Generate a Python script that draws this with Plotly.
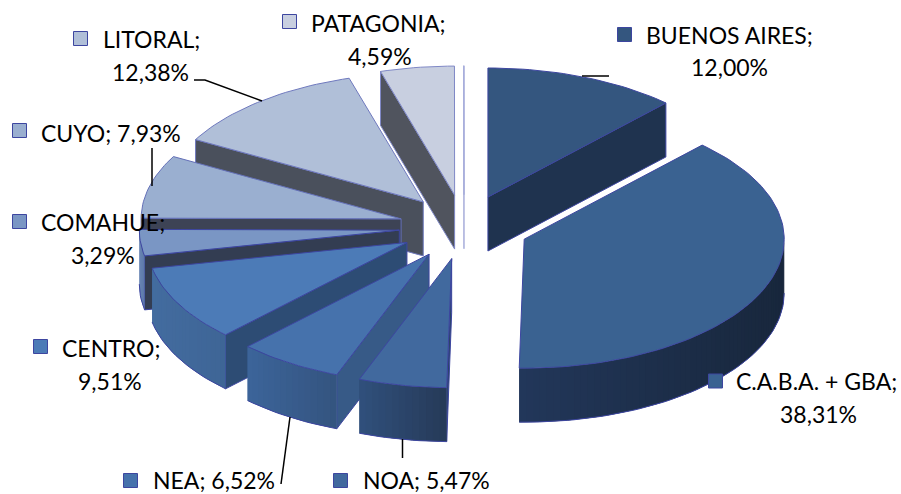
import numpy as np
import plotly.graph_objects as go

# clockwise from 12 o'clock, as in the source chart
CATEGORIES = ["BUENOS AIRES", "C.A.B.A. + GBA", "NOA", "NEA", "CENTRO",
              "COMAHUE", "CUYO", "LITORAL", "PATAGONIA", ""]
SHARES = [12.00, 38.31, 5.47, 6.52, 9.51, 3.29, 7.93, 12.38, 4.59, 0.01]

TOP_COLORS = ["#34567F", "#3A6291", "#41699E", "#4672AC", "#4C7BB7",
              "#7A96C4", "#9AAFD0", "#B0BFD8", "#C8CFE0", "#C8CFE0"]
FACE_COLORS = ["#1F334F", "#1E3050", "#2A4468", "#375A87", "#2D4C74",
               "#333D52", "#3D4355", "#4A505C", "#50545E", "#50545E"]
RIM_LEFT = ["#1F334F", "#22375A", "#30507C", "#3C649A", "#436C9F",
            "#6A86B4", "#8299BD", "#4A505C", "#50545E", "#50545E"]
RIM_RIGHT = ["#1F334F", "#18273C", "#263A58", "#34547F", "#3E6596",
             "#5C78A8", "#8299BD", "#4A505C", "#50545E", "#50545E"]
EDGE_COLORS = ["#3D46A0"] * 6 + ["#6470B8", "#6F79BE", "#7F88C6", "#A8AEDC"]

DRAW_ORDER = [9, 8, 0, 7, 6, 5, 4, 3, 2, 1]

# pie geometry in page pixels
CX, CY = 464, 227
RX, RY = 260, 129
DEPTH = 54
EXPLODE = 0.25

fig = go.Figure()


def add_poly(xs, ys, fill, edge=None):
    fig.add_trace(go.Scatter(
        x=list(xs), y=list(ys), mode="lines", fill="toself", fillcolor=fill,
        line=dict(color=edge or fill, width=1 if edge else 0),
        hoverinfo="skip", showlegend=False,
    ))


def add_line(xs, ys, color, width=1):
    fig.add_trace(go.Scatter(
        x=list(xs), y=list(ys), mode="lines", line=dict(color=color, width=width),
        hoverinfo="skip", showlegend=False,
    ))


def mix(c1, c2, t):
    a = [int(c1[i:i + 2], 16) for i in (1, 3, 5)]
    b = [int(c2[i:i + 2], 16) for i in (1, 3, 5)]
    return "rgb(%d,%d,%d)" % tuple(round(p + (q - p) * t) for p, q in zip(a, b))


def rim(cx, cy, a0, a1, n):
    t = np.radians(np.linspace(a0, a1, n))
    return cx + RX * np.sin(t), cy - RY * np.cos(t)


edges = np.concatenate([[0], np.cumsum(SHARES)]) / sum(SHARES) * 360

for i in DRAW_ORDER:
    a0, a1 = edges[i], edges[i + 1]
    mid = np.radians((a0 + a1) / 2)
    ax = CX + EXPLODE * RX * np.sin(mid)
    ay = CY - EXPLODE * RY * np.cos(mid)
    n = max(int((a1 - a0) / 1.5), 2) + 1
    xs, ys = rim(ax, ay, a0, a1, n)
    edge = EDGE_COLORS[i]

    # only the cut face that looks at the viewer is drawn
    for j, seen in ((0, a0 > 180), (-1, a1 < 180)):
        if seen:
            add_poly([ax, xs[j], xs[j], ax, ax],
                     [ay, ys[j], ys[j] + DEPTH, ay + DEPTH, ay],
                     FACE_COLORS[i], edge)

    # outer wall, front half only, in overlapping strips for the shading
    w0, w1 = max(a0, 90), min(a1, 270)
    if w1 > w0:
        m = max(int((w1 - w0) / 1.5), 2) + 1
        wx, wy = rim(ax, ay, w0, w1, m)
        lo, hi = wx.min(), wx.max()
        for k in range(m - 1):
            e = min(k + 2, m - 1)
            t = ((wx[k] + wx[k + 1]) / 2 - lo) / (hi - lo)
            add_poly([wx[k], wx[e], wx[e], wx[k], wx[k]],
                     [wy[k], wy[e], wy[e] + DEPTH, wy[k] + DEPTH, wy[k]],
                     mix(RIM_LEFT[i], RIM_RIGHT[i], t))
        add_line(wx, wy + DEPTH, edge)

    add_poly([ax] + list(xs) + [ax], [ay] + list(ys) + [ay], TOP_COLORS[i], edge)

leader_lines = [
    [(582, 76), (609, 76)],
    [(194, 80), (205, 80), (262, 101)],
    [(152, 148), (152, 186)],
    [(290, 417), (281, 484)],
    [(402.5, 439), (402.5, 458)],
]
for pts in leader_lines:
    add_line([p[0] for p in pts], [p[1] for p in pts], "#000000", 1.5)


def pct(v):
    return f"{v:.2f}".replace(".", ",") + "%"


# key centre, then first line and second line as (x, y); None = one line label
label_spots = {
    0: ((624.5, 34.5), (644.5, 35), (729, 67)),
    1: ((715.5, 381), (734.5, 381), (818, 414)),
    2: ((340.5, 480.5), (361.5, 480), None),
    3: ((130.5, 480.5), (151.5, 480), None),
    4: ((40.5, 346.5), (60.5, 348), (109.5, 381)),
    5: ((19.5, 221.5), (39.5, 222), (102.5, 255)),
    6: ((19.5, 130.5), (39.5, 133), None),
    7: ((80.5, 38.5), (101.5, 39), (150.5, 72)),
    8: ((289.5, 21.5), (309.5, 23), (380, 56)),
}

annotations = []
for i, (key, first, second) in label_spots.items():
    fig.add_trace(go.Scatter(
        x=[key[0]], y=[key[1]], mode="markers",
        marker=dict(symbol="square", size=14, color=TOP_COLORS[i],
                    line=dict(color="#3D46A0", width=1)),
        hoverinfo="skip", showlegend=False,
    ))
    if second is None:
        annotations.append(dict(x=first[0], y=first[1], xanchor="left",
                                text=f"{CATEGORIES[i]}; {pct(SHARES[i])}"))
    else:
        annotations.append(dict(x=first[0], y=first[1], xanchor="left",
                                text=f"{CATEGORIES[i]};"))
        annotations.append(dict(x=second[0], y=second[1], xanchor="center",
                                text=pct(SHARES[i])))
for a in annotations:
    a.update(xref="x", yref="y", yanchor="middle", showarrow=False, height=24,
             borderpad=0, font=dict(family="Lato", size=23, color="#000000"))

fig.update_layout(
    width=901, height=494,
    margin=dict(l=0, r=0, t=0, b=0),
    paper_bgcolor="white", plot_bgcolor="white",
    showlegend=False,
    xaxis=dict(range=[0, 901], visible=False, fixedrange=True),
    yaxis=dict(range=[494, 0], visible=False, fixedrange=True),
    annotations=annotations,
)

# the page's default body margin would push the chart 8px off
fig.write_html("out.html", config={"displayModeBar": False},
               post_script="document.body.style.margin = '0';")
